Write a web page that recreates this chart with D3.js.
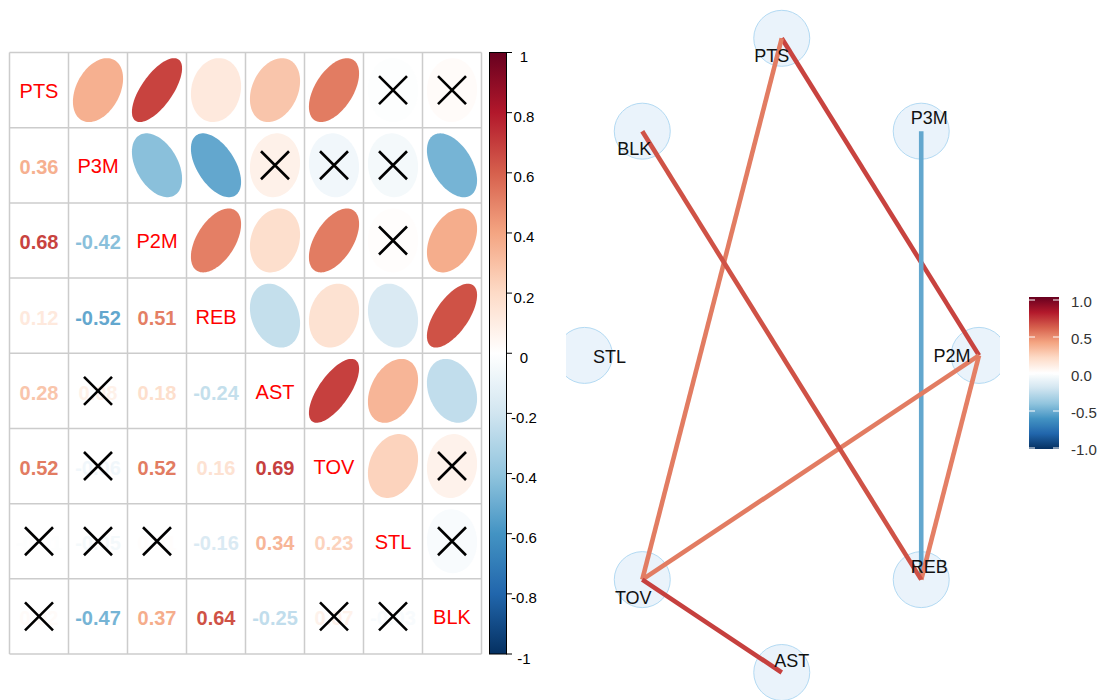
<!DOCTYPE html>
<html>
<head>
<meta charset="utf-8">
<script src="https://cdn.jsdelivr.net/npm/d3@7"></script>
<style>
  html, body { margin: 0; padding: 0; background: #fff; }
  svg { display: block; font-family: "Liberation Sans", Arial, sans-serif; }
</style>
</head>
<body>
<svg id="chart" width="1103" height="700"></svg>
<script>
// Box-score variables, in matrix order
const variables = ["PTS", "P3M", "P2M", "REB", "AST", "TOV", "STL", "BLK"];

// Lower-triangle correlations: row i holds r(variable i, variable j) for j < i
const corrRows = [
  [],
  [0.36],
  [0.68, -0.42],
  [0.12, -0.52, 0.51],
  [0.28, 0.08, 0.18, -0.24],
  [0.52, -0.06, 0.52, 0.16, 0.69],
  [-0.01, -0.05, 0.01, -0.16, 0.34, 0.23],
  [0.02, -0.47, 0.37, 0.64, -0.25, 0.07, -0.03]
];

// Pairs whose correlation is not significant (crossed out)
const insignificant = [
  ["AST", "P3M"], ["TOV", "P3M"], ["STL", "PTS"], ["STL", "P3M"],
  ["STL", "P2M"], ["BLK", "PTS"], ["BLK", "TOV"], ["BLK", "STL"]
];

// Colour-bar ticks
const corrTicks = [1, 0.8, 0.6, 0.4, 0.2, 0, -0.2, -0.4, -0.6, -0.8, -1];
const corrTickLabels = ["1", "0.8", "0.6", "0.4", "0.2", "0", "-0.2", "-0.4", "-0.6", "-0.8", "-1"];
const legendTicks = [1, 0.5, 0, -0.5, -1];
const legendTickLabels = ["1.0", "0.5", "0.0", "-0.5", "-1.0"];

// Minimum |r| for a link in the network
const networkCutoff = 0.5;

// RdBu diverging palette from -1 to 1
const palette = ["#053061", "#2166AC", "#4393C3", "#92C5DE", "#D1E5F0", "#FFFFFF",
                 "#FDDBC7", "#F4A582", "#D6604D", "#B2182B", "#67001F"];
const color = d3.scaleLinear()
  .domain(d3.range(palette.length).map(i => -1 + i * 2 / (palette.length - 1)))
  .range(palette)
  .interpolate(d3.interpolateRgb);

// ---- build the full symmetric matrix ----
const n = variables.length;
const R = variables.map(() => variables.map(() => 1));
corrRows.forEach((row, i) => row.forEach((r, j) => { R[i][j] = r; R[j][i] = r; }));
const insig = new Set();
insignificant.forEach(([a, b]) => { insig.add(a + "|" + b); insig.add(b + "|" + a); });

const cells = [];
variables.forEach((rv, i) => variables.forEach((cv, j) => {
  cells.push({ row: rv, col: cv, i, j, r: R[i][j], ns: insig.has(rv + "|" + cv) });
}));

const svg = d3.select("#chart");
const FONT = '"Liberation Sans", Arial, sans-serif';

// ================= correlation matrix =================
const x = d3.scaleBand().domain(variables).range([9.5, 481.5]);
const y = d3.scaleBand().domain(variables).range([52.5, 654]);
const cw = x.bandwidth(), ch = y.bandwidth();

const mat = svg.append("g");

// ellipse outline for a correlation r, in unit-cell coordinates
function ellipsePath(r) {
  const a = Math.acos(Math.max(-1, Math.min(1, r))) / 2;
  const pts = d3.range(0, 99).map(t => {
    const k = t * 2 * Math.PI / 98;
    return [0.85 * Math.cos(k + a) / 2 * cw, -0.85 * Math.cos(k - a) / 2 * ch];
  });
  return d3.line()(pts) + "Z";
}

// upper triangle: ellipses
mat.selectAll("path.ell")
  .data(cells.filter(d => d.j > d.i))
  .join("path")
  .attr("class", "ell")
  .attr("transform", d => `translate(${x(d.col) + cw / 2},${y(d.row) + ch / 2})`)
  .attr("d", d => ellipsePath(d.r))
  .attr("fill", d => color(d.r));

// lower triangle: coefficients
mat.selectAll("text.num")
  .data(cells.filter(d => d.j < d.i))
  .join("text")
  .attr("class", "num")
  .attr("x", d => x(d.col) + cw / 2)
  .attr("y", d => y(d.row) + ch / 2 + 2)
  .attr("text-anchor", "middle")
  .attr("dominant-baseline", "central")
  .attr("font-size", 20)
  .attr("font-weight", "bold")
  .attr("fill", d => color(d.r))
  .text(d => d3.format(".2f")(d.r).replace("−", "-"));

// diagonal: variable names
mat.selectAll("text.diag")
  .data(cells.filter(d => d.i === d.j))
  .join("text")
  .attr("class", "diag")
  .attr("x", d => x(d.col) + cw / 2)
  .attr("y", d => y(d.row) + ch / 2 + 1)
  .attr("text-anchor", "middle")
  .attr("dominant-baseline", "central")
  .attr("font-size", 20)
  .attr("fill", "#FF0000")
  .text(d => d.row);

// grid
const gx = variables.map(v => x(v)).concat([x.range()[1]]);
const gy = variables.map(v => y(v)).concat([y.range()[1]]);
mat.selectAll("line.gv").data(gx).join("line").attr("class", "gv")
  .attr("x1", d => d).attr("x2", d => d).attr("y1", y.range()[0]).attr("y2", y.range()[1])
  .attr("stroke", "#cccccc").attr("stroke-width", 1.5);
mat.selectAll("line.gh").data(gy).join("line").attr("class", "gh")
  .attr("y1", d => d).attr("y2", d => d).attr("x1", x.range()[0]).attr("x2", x.range()[1])
  .attr("stroke", "#cccccc").attr("stroke-width", 1.5);

// crosses over non-significant coefficients
const crossG = mat.selectAll("g.cross")
  .data(cells.filter(d => d.ns))
  .join("g")
  .attr("class", "cross")
  .attr("transform", d => `translate(${x(d.col) + cw / 2},${y(d.row) + ch / 2})`);
crossG.append("path")
  .attr("d", "M-14,-14L14,14M-14,14L14,-14")
  .attr("stroke", "#000")
  .attr("stroke-width", 2.6)
  .attr("fill", "none");

// colour bar
const defs = svg.append("defs");
function addGradient(id) {
  const g = defs.append("linearGradient").attr("id", id)
    .attr("x1", 0).attr("y1", 1).attr("x2", 0).attr("y2", 0);
  g.selectAll("stop").data(d3.range(0, 41)).join("stop")
    .attr("offset", d => d / 40)
    .attr("stop-color", d => color(-1 + d / 20));
}
addGradient("gradCorr");
addGradient("gradNet");

const cbY = d3.scaleLinear().domain([-1, 1]).range([654, 52.5]);
const cb = svg.append("g");
cb.append("rect")
  .attr("x", 489.5).attr("y", cbY(1)).attr("width", 17).attr("height", cbY(-1) - cbY(1))
  .attr("fill", "url(#gradCorr)").attr("stroke", "#000").attr("stroke-width", 1);
cb.selectAll("line.tk").data(corrTicks).join("line").attr("class", "tk")
  .attr("x1", 506).attr("x2", 512)
  .attr("y1", d => cbY(d)).attr("y2", d => cbY(d))
  .attr("stroke", "#000").attr("stroke-width", 1);
cb.selectAll("text.tl").data(corrTicks).join("text").attr("class", "tl")
  .attr("x", 524).attr("y", d => cbY(d) + 4)
  .attr("text-anchor", "middle").attr("dominant-baseline", "central")
  .attr("font-size", 15).attr("fill", "#000")
  .text((d, i) => corrTickLabels[i]);

// ================= network =================
const nx = d3.scaleLinear().domain([-1, 1]).range([584.5, 979]);
const ny = d3.scaleLinear().domain([-1, 1]).range([672.5, 38.3]);

// label placement offsets around each node (px)
const labelNudge = [[-10, 18], [8, -13], [-27, 1], [8, -13], [10, -12], [-9, 18], [25, 2], [-8, 18]];

const nodes = variables.map((v, i) => {
  const a = i * 2 * Math.PI / n;
  return { name: v, cx: nx(Math.sin(a)), cy: ny(Math.cos(a)), nudge: labelNudge[i] };
});
const links = [];
for (let i = 0; i < n; i++) for (let j = 0; j < i; j++) {
  if (Math.abs(R[i][j]) >= networkCutoff) links.push({ s: nodes[j], t: nodes[i], r: R[i][j] });
}

defs.append("clipPath").attr("id", "netClip")
  .append("rect").attr("x", 566).attr("y", 0).attr("width", 434).attr("height", 700);

const net = svg.append("g").attr("clip-path", "url(#netClip)");

net.selectAll("circle.node").data(nodes).join("circle").attr("class", "node")
  .attr("cx", d => d.cx).attr("cy", d => d.cy).attr("r", 28)
  .attr("fill", "#eaf3fb").attr("stroke", "#b3daf3").attr("stroke-width", 1);

net.selectAll("line.link").data(links).join("line").attr("class", "link")
  .attr("x1", d => d.s.cx).attr("y1", d => d.s.cy)
  .attr("x2", d => d.t.cx).attr("y2", d => d.t.cy)
  .attr("stroke", d => color(d.r)).attr("stroke-width", 4.6);

net.selectAll("text.nl").data(nodes).join("text").attr("class", "nl")
  .attr("x", d => d.cx + d.nudge[0]).attr("y", d => d.cy + d.nudge[1])
  .attr("text-anchor", "middle").attr("dominant-baseline", "central")
  .attr("font-size", 18).attr("fill", "#111")
  .text(d => d.name);

// network colour legend
const lgY = d3.scaleLinear().domain([-1, 1]).range([448, 300]);
const lg = svg.append("g");
lg.append("rect")
  .attr("x", 1029).attr("y", 297).attr("width", 30).attr("height", 152)
  .attr("fill", "url(#gradNet)");
lg.selectAll("line.tkl").data(legendTicks).join("line").attr("class", "tkl")
  .attr("x1", 1029).attr("x2", 1035).attr("y1", d => lgY(d)).attr("y2", d => lgY(d))
  .attr("stroke", "#fff").attr("stroke-width", 1);
lg.selectAll("line.tkr").data(legendTicks).join("line").attr("class", "tkr")
  .attr("x1", 1053).attr("x2", 1059).attr("y1", d => lgY(d)).attr("y2", d => lgY(d))
  .attr("stroke", "#fff").attr("stroke-width", 1);
lg.selectAll("text.ll").data(legendTicks).join("text").attr("class", "ll")
  .attr("x", 1071).attr("y", d => lgY(d) + 1)
  .attr("dominant-baseline", "central")
  .attr("font-size", 15).attr("fill", "#333")
  .text((d, i) => legendTickLabels[i]);
</script>
</body>
</html>
